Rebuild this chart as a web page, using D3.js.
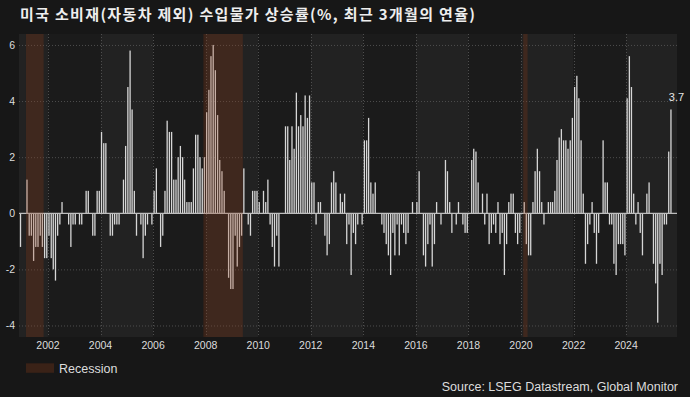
<!DOCTYPE html>
<html>
<head>
<meta charset="utf-8">
<script src="https://cdn.jsdelivr.net/npm/d3@7"></script>
<style>
  html, body { margin: 0; padding: 0; background: #171717; }
  svg { display: block; }
</style>
</head>
<body>
<svg id="chart" width="690" height="397"></svg>
<script>
// ---------------- DATA ----------------
const titleText = "미국 소비재(자동차 제외) 수입물가 상승률(%, 최근 3개월의 연율)";
const sourceText = "Source: LSEG Datastream, Global Monitor";
const legendLabel = "Recession";
const firstMonth = [2000, 11]; // Dec 2000 (year, zero-based month)

const v2000 = [-1.2]; // Dec only
const v2001 = [0, 0, 1.2, -0.8, -0.8, -1.7, -1.2, -1.2, -0.8, -1.2, -1.6, -1.6];
const v2002 = [-0.8, -1.6, -2.0, -2.4, -0.8, -0.4, 0.4, 0, 0, -0.4, -1.2, -0.4];
const v2003 = [-0.4, 0, -0.4, -0.4, 0, 0.8, 0.8, 0, -0.8, -0.8, 0.8, 0.8];
const v2004 = [2.9, 2.5, 2.5, 0, -0.8, -0.8, -0.4, -0.4, -0.4, 0, 1.2, 2.4];
const v2005 = [4.5, 5.8, 3.7, 0.8, -0.8, 0, -0.4, -1.6, -0.8, -0.4, 0, -0.4];
const v2006 = [0.8, 1.6, 0, -1.2, -0.8, 0.8, 3.3, 2.9, 2.9, 1.2, 1.2, 2.0];
const v2007 = [2.4, 2.0, 1.2, 0.4, 0.4, 0.4, 1.6, 2.8, 2.8, 2.0, 1.6, 2.0];
const v2008 = [3.6, 4.4, 5.6, 6.0, 5.1, 3.5, 1.9, 1.5, 0.8, 0, -2.3, -2.7];
const v2009 = [-2.7, -0.8, -1.9, -1.2, -0.8, 1.6, 0, -0.4, -0.8, 0.8, 0.8, 0.8];
const v2010 = [0.4, 0, 0.8, 0.4, 1.2, -0.4, -1.2, -1.9, -0.8, -1.9, 0, 0];
const v2011 = [3.1, 3.1, 1.9, 3.1, 2.3, 4.3, 3.1, 3.5, 3.1, 4.2, 3.4, 4.2];
const v2012 = [1.1, 1.1, -0.4, 0.4, 0.4, 0, -0.8, -1.5, -1.1, 1.1, 1.5, 1.1];
const v2013 = [0, 0.7, 0.4, 0.7, -1.1, -0.4, -2.2, -0.7, -1.1, -0.4, 0, -0.4];
const v2014 = [2.6, 2.6, 3.4, 1.1, 0.7, 1.1, 0, 0, -0.4, -0.7, -1.1, -1.5];
const v2015 = [-2.2, -0.7, -1.5, -0.4, -1.5, -0.4, -0.7, -1.1, -0.7, 0, 0.4, 0];
const v2016 = [0.4, 1.5, 0, -1.5, -1.9, -1.1, -0.4, -1.9, -1.1, 0.4, 0, -0.4];
const v2017 = [0, 1.9, 1.5, 0.4, -0.7, 0, -0.4, 0.4, 0, -0.4, -0.7, -0.7];
const v2018 = [0, 1.9, 2.3, 2.2, 1.1, 0, 0.7, -0.4, 0.7, -1.1, -0.7, -0.4];
const v2019 = [-0.7, 0.4, -1.1, -0.7, -2.2, -1.1, 0.4, 0.7, 0.7, -0.7, -1.1, -0.7];
const v2020 = [0, 0.4, -1.1, -1.5, -1.5, 0.4, 1.5, 2.3, 1.5, 0.4, -0.4, 0];
const v2021 = [0.4, 0.4, 0.4, 0.8, 1.9, 2.7, 3.0, 2.6, 2.6, 2.3, 2.6, 3.4];
const v2022 = [4.5, 4.9, 4.1, 2.6, 0.7, -1.8, -1.1, -0.4, 0.4, -0.7, -1.8, -0.7];
const v2023 = [0, 2.6, 1.1, 1.1, -0.4, -0.4, -1.8, -2.2, -1.1, -1.1, -1.1, -1.5];
const v2024 = [4.1, 5.6, 4.5, 0.7, -0.4, 0.4, -0.7, -1.5, 0, 0.7, 1.1, 0];
const v2025 = [-1.8, -2.5, -3.9, -1.8, -2.2, -0.4, -0.4, 2.2, 3.7]; // Jan-Sep

const values = [].concat(v2000, v2001, v2002, v2003, v2004, v2005, v2006, v2007,
  v2008, v2009, v2010, v2011, v2012, v2013, v2014, v2015, v2016, v2017, v2018,
  v2019, v2020, v2021, v2022, v2023, v2024, v2025);

const recessions = [
  ["2001-03-01", "2001-11-01"],
  ["2007-12-01", "2009-06-01"],
  ["2020-02-01", "2020-04-01"]
];
const xTickYears = [2002, 2004, 2006, 2008, 2010, 2012, 2014, 2016, 2018, 2020, 2022, 2024];
const yTicks = [-4, -2, 0, 2, 4, 6];

// ---------------- CHART ----------------
const svg = d3.select("#chart");
const W = 690, H = 397;
const plot = { left: 19, right: 677, top: 34, bottom: 337 };

const data = values.map((v, i) => ({
  date: new Date(firstMonth[0], firstMonth[1] + i, 15),
  value: v
}));

const x = d3.scaleTime()
  .domain([new Date(2000, 10, 24), new Date(2025, 11, 8)])
  .range([plot.left, plot.right]);
const y = d3.scaleLinear()
  .domain([-4.41, 6.39])
  .range([plot.bottom, plot.top]);

svg.append("rect").attr("width", W).attr("height", H).attr("fill", "#171717");

// alternating background bands (2-year)
const bandEdges = [x.domain()[0]].concat(xTickYears.map(yr => new Date(yr, 0, 1)), [x.domain()[1]]);
const bands = d3.pairs(bandEdges).map((p, i) => ({ a: p[0], b: p[1], light: i % 2 === 0 }));
svg.append("g").selectAll("rect").data(bands).join("rect")
  .attr("x", d => x(d.a)).attr("width", d => x(d.b) - x(d.a))
  .attr("y", plot.top).attr("height", plot.bottom - plot.top)
  .attr("fill", d => d.light ? "#222222" : "#1b1b1b");

// horizontal gridlines
svg.append("g").selectAll("line").data(yTicks.filter(t => t !== 0)).join("line")
  .attr("x1", plot.left).attr("x2", plot.right)
  .attr("y1", d => y(d) + 0.5).attr("y2", d => y(d) + 0.5)
  .attr("stroke", "#4e4e4e").attr("stroke-width", 1).attr("stroke-dasharray", "1,2");

// vertical gridlines
svg.append("g").selectAll("line").data(xTickYears).join("line")
  .attr("x1", d => Math.round(x(new Date(d, 0, 1))) + 0.5)
  .attr("x2", d => Math.round(x(new Date(d, 0, 1))) + 0.5)
  .attr("y1", plot.top).attr("y2", plot.bottom)
  .attr("stroke", "#4e4e4e").attr("stroke-width", 1).attr("stroke-dasharray", "1,2");

// bars
const barW = 1.3;
svg.append("g").selectAll("rect").data(data.filter(d => d.value !== 0)).join("rect")
  .attr("x", d => x(d.date) - barW / 2)
  .attr("width", barW)
  .attr("y", d => Math.min(y(d.value), y(0)))
  .attr("height", d => Math.abs(y(d.value) - y(0)))
  .attr("fill", "#d6d6d6");

// zero line
svg.append("line")
  .attr("x1", plot.left).attr("x2", plot.right)
  .attr("y1", y(0)).attr("y2", y(0))
  .attr("stroke", "#bdbdbd").attr("stroke-width", 1.2);

// recession shading (on top, translucent)
svg.append("g").selectAll("rect").data(recessions).join("rect")
  .attr("x", d => x(new Date(d[0])))
  .attr("width", d => x(new Date(d[1])) - x(new Date(d[0])))
  .attr("y", plot.top).attr("height", plot.bottom - plot.top)
  .attr("fill", "rgb(150,60,20)").attr("fill-opacity", 0.25);

// y axis labels
const font = "'Liberation Sans', Arial, sans-serif";
svg.append("g").selectAll("text").data(yTicks).join("text")
  .attr("x", 15).attr("y", d => y(d))
  .attr("dy", "0.35em")
  .attr("text-anchor", "end")
  .attr("font-family", font).attr("font-size", 10.5)
  .attr("fill", "#dddddd")
  .text(d => d);

// x axis labels
svg.append("g").selectAll("text").data(xTickYears).join("text")
  .attr("x", d => x(new Date(d, 0, 1)))
  .attr("y", 349.3)
  .attr("text-anchor", "middle")
  .attr("font-family", font).attr("font-size", 10.5)
  .attr("fill", "#dddddd")
  .text(d => d);

// last value label
const last = data[data.length - 1];
svg.append("text")
  .attr("x", x(last.date) + 5.5).attr("y", y(last.value) - 8)
  .attr("text-anchor", "middle")
  .attr("font-family", font).attr("font-size", 11)
  .attr("fill", "#e6e6e6")
  .text(last.value.toFixed(1));

// title
svg.append("text")
  .attr("x", 20).attr("y", 19.5)
  .attr("font-family", "'Noto Sans CJK KR', 'Noto Sans', sans-serif")
  .attr("font-size", 15)
  .attr("font-weight", "bold")
  .attr("textLength", 455).attr("lengthAdjust", "spacing")
  .attr("fill", "#eeeeee")
  .text(titleText);

// legend
svg.append("rect")
  .attr("x", 26).attr("y", 363.3).attr("width", 28).attr("height", 9.5)
  .attr("fill", "#3a2217");
svg.append("text")
  .attr("x", 59).attr("y", 372.8)
  .attr("font-family", font).attr("font-size", 12.5)
  .attr("fill", "#dddddd")
  .text(legendLabel);

// source
svg.append("text")
  .attr("x", 678).attr("y", 391)
  .attr("text-anchor", "end")
  .attr("font-family", font).attr("font-size", 12.5)
  .attr("fill", "#dddddd")
  .text(sourceText);
</script>
</body>
</html>
